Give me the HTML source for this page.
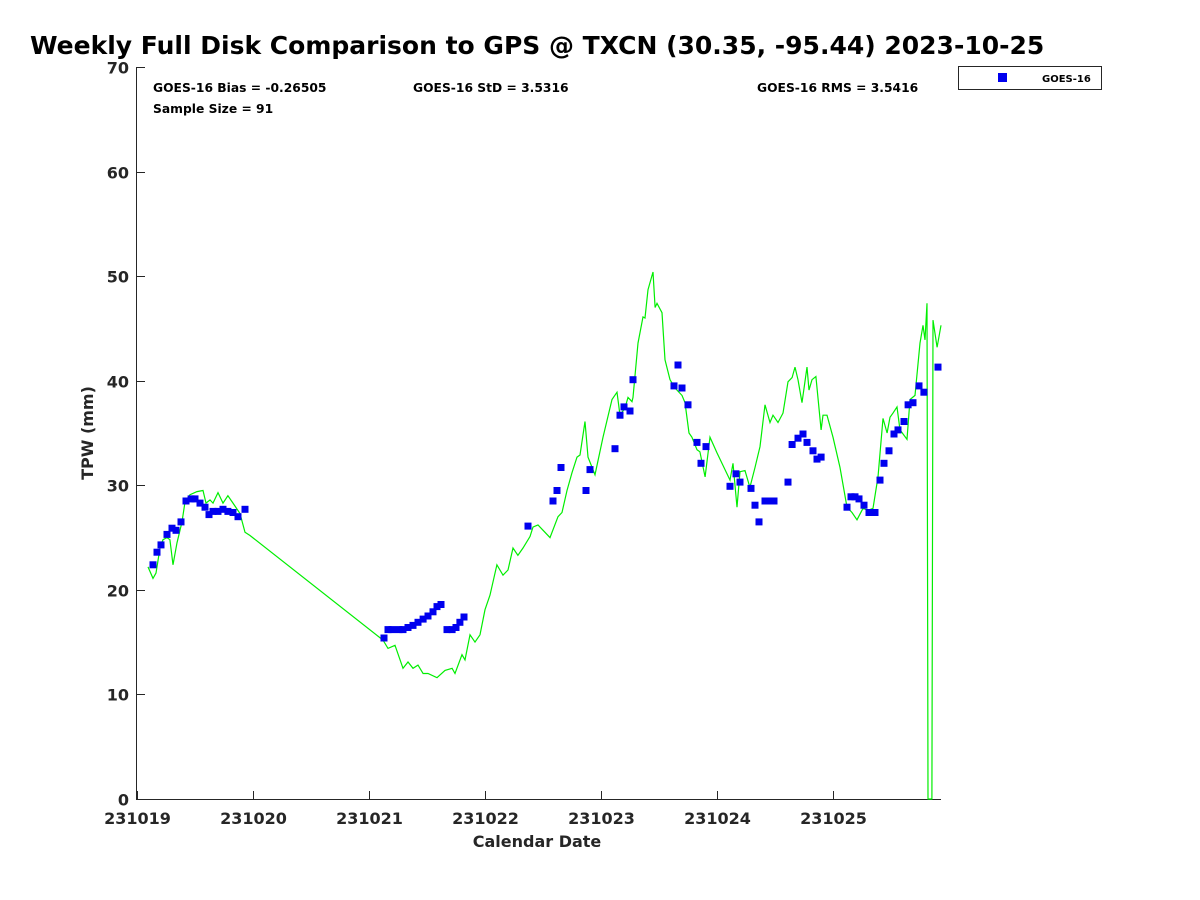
<!DOCTYPE html>
<html><head><meta charset="utf-8"><style>
body{margin:0;background:#fff}
svg{display:block;font-family:"DejaVu Sans","Liberation Sans",sans-serif}
</style></head><body>
<svg id="chart" width="1200" height="900">
<text x="30" y="54" font-size="25" font-weight="bold" fill="#000">Weekly Full Disk Comparison to GPS @ TXCN (30.35, -95.44) 2023-10-25</text>
<g font-size="12.3" font-weight="bold" fill="#000">
<text x="153" y="92">GOES-16 Bias = -0.26505</text>
<text x="413" y="92">GOES-16 StD = 3.5316</text>
<text x="757" y="92">GOES-16 RMS = 3.5416</text>
<text x="153" y="113">Sample Size = 91</text>
</g>
<g>
<rect x="958.5" y="66.5" width="143" height="23" fill="#fff" stroke="#262626"/>
<rect x="998" y="73" width="9" height="9" fill="#0000ee"/>
<text x="1042" y="82" font-size="10" font-weight="bold" fill="#000">GOES-16</text>
</g>
<g id="axes"></g>
<g id="marks"></g>
<text x="537" y="847" font-size="16" font-weight="bold" fill="#262626" text-anchor="middle">Calendar Date</text>
<text transform="translate(93,433) rotate(-90)" font-size="16" font-weight="bold" fill="#262626" text-anchor="middle">TPW (mm)</text>
</svg>
<script>
const xTickLabels=["231019","231020","231021","231022","231023","231024","231025"];
const yTicks=[0,10,20,30,40,50,60,70];
const goesDays=[.138,.172,.207,.259,.302,.336,.379,.422,.466,.5,.543,.586,.621,.655,.698,.741,.784,.828,.871,.931,
2.129,2.164,2.198,2.259,2.293,2.336,2.379,2.422,2.466,2.509,2.552,2.586,2.621,2.672,2.716,2.75,2.784,2.819,
3.371,3.586,3.621,3.655,3.871,3.905,4.121,4.164,4.198,4.25,4.276,4.629,4.664,4.698,4.75,4.828,4.862,4.905,
5.112,5.164,5.198,5.293,5.328,5.362,5.414,5.448,5.491,5.612,5.647,5.698,5.741,5.776,5.828,5.862,5.897,
6.121,6.155,6.19,6.224,6.267,6.31,6.362,6.405,6.44,6.483,6.526,6.56,6.612,6.647,6.69,6.741,6.784,6.905];
const goesTPW=[22.4,23.6,24.3,25.3,25.9,25.7,26.5,28.5,28.7,28.7,28.3,27.9,27.2,27.5,27.5,27.7,27.5,27.4,27.0,27.7,
15.4,16.2,16.2,16.2,16.2,16.4,16.6,16.9,17.2,17.5,17.9,18.4,18.6,16.2,16.2,16.4,16.9,17.4,
26.1,28.5,29.5,31.7,29.5,31.5,33.5,36.7,37.5,37.1,40.1,39.5,41.5,39.3,37.7,34.1,32.1,33.7,
29.9,31.1,30.3,29.7,28.1,26.5,28.5,28.5,28.5,30.3,33.9,34.5,34.9,34.1,33.3,32.5,32.7,
27.9,28.9,28.9,28.7,28.1,27.4,27.4,30.5,32.1,33.3,34.9,35.3,36.1,37.7,37.9,39.5,38.9,41.3];
const gpsDays=[.095,.138,.164,.198,.224,.259,.284,.310,.345,.388,.414,.457,.517,.569,.595,.629,.655,.698,.741,.784,.828,.888,.931,.974,
2.121,2.164,2.224,2.293,2.336,2.379,2.422,2.466,2.509,2.586,2.655,2.716,2.741,2.802,2.828,2.871,2.914,2.957,
3.0,3.043,3.103,3.155,3.198,3.241,3.284,3.328,3.388,3.414,3.457,3.560,3.629,3.664,3.707,3.75,3.793,3.819,3.862,3.888,3.948,
4.017,4.095,4.138,4.164,4.207,4.233,4.267,4.276,4.319,4.362,4.379,4.405,4.448,4.466,4.483,4.526,4.552,4.595,4.638,4.698,4.724,4.759,4.784,4.828,4.853,4.897,4.940,
5.0,5.112,5.138,5.172,5.198,5.241,5.284,5.328,5.371,5.414,5.457,5.483,5.526,5.569,5.612,5.647,5.672,5.698,5.733,5.776,5.793,5.819,5.853,5.897,5.914,5.948,
6.0,6.060,6.121,6.164,6.207,6.259,6.302,6.345,6.388,6.431,6.466,6.491,6.517,6.552,6.578,6.638,6.664,6.707,6.750,6.776,6.793,6.810,6.819,6.853,6.862,6.897,6.931];
const gpsTPW=[22.2,21.1,21.6,24.0,24.8,25.0,24.8,22.4,24.5,26.5,28.4,29.1,29.4,29.5,28.3,28.6,28.3,29.3,28.3,29.0,28.3,27.3,25.5,25.2,
15.2,14.4,14.7,12.5,13.1,12.5,12.8,12.0,12.0,11.6,12.3,12.5,12.0,13.8,13.3,15.7,15.0,15.7,
18.1,19.5,22.4,21.4,21.9,24.0,23.3,24.0,25.1,26.0,26.2,25.0,27.0,27.4,29.5,31.2,32.7,32.9,36.1,32.7,31.0,
34.6,38.2,38.9,36.7,37.4,38.4,38.0,38.4,43.6,46.1,46.0,48.7,50.4,47.0,47.4,46.5,42.0,40.1,39.3,38.6,37.9,35.0,34.6,33.4,33.2,30.8,34.6,
33.1,30.5,32.1,27.9,31.3,31.4,29.8,31.7,33.7,37.7,36.0,36.7,36.0,36.9,39.9,40.3,41.3,40.1,37.9,41.3,39.1,40.1,40.4,35.3,36.7,36.7,
34.6,31.7,27.9,27.4,26.7,27.8,27.6,27.8,30.8,36.4,35.0,36.5,36.9,37.5,35.3,34.4,38.2,38.6,43.6,45.3,43.9,47.4,0,0,45.8,43.2,45.3];

const L=137,R=941,T=67,B=799;
const xS=d=>L+d*116;
const yS=v=>B-(v/70)*(B-T);
const NS="http://www.w3.org/2000/svg";
function mk(tag,attrs,parent){const e=document.createElementNS(NS,tag);for(const k in attrs)e.setAttribute(k,attrs[k]);parent.appendChild(e);return e;}
const axes=document.getElementById('axes'),marks=document.getElementById('marks');
const yl=mk('line',{x1:L-0.5,y1:T,x2:L-0.5,y2:B+0.5,stroke:'#262626','stroke-width':1},axes);


const xl=mk('line',{x1:L-1,y1:B+0.5,x2:R,y2:B+0.5,stroke:'#262626','stroke-width':1},axes);


yTicks.forEach(v=>{
  const y=Math.round(yS(v))+0.5;
  mk('line',{x1:L,y1:y,x2:L+8,y2:y,stroke:'#262626'},axes);
  const t=mk('text',{x:L-8,y:y+6,'text-anchor':'end','font-size':16,'font-weight':'bold',fill:'#262626'},axes);
  t.textContent=v;
  
  
});
xTickLabels.forEach((s,i)=>{
  const x=Math.round(xS(i))+0.5;
  mk('line',{x1:x,y1:B,x2:x,y2:B-8,stroke:'#262626'},axes);
  const t=mk('text',{x:x,y:B+25,'text-anchor':'middle','font-size':16,'font-weight':'bold',fill:'#262626'},axes);
  t.textContent=s;
  
  
});
const pts=gpsDays.map((d,i)=>xS(d).toFixed(1)+','+yS(gpsTPW[i]).toFixed(1)).join(' ');
const pl=mk('polyline',{points:pts,fill:'none',stroke:'#00ee00','stroke-width':1.2},marks);


goesDays.forEach((d,i)=>{
  const r=mk('rect',{x:(xS(d)-3.5).toFixed(1),y:(yS(goesTPW[i])-3.5).toFixed(1),width:7,height:7,fill:'#0000ee'},marks);
  
  
});
</script>
</body></html>
